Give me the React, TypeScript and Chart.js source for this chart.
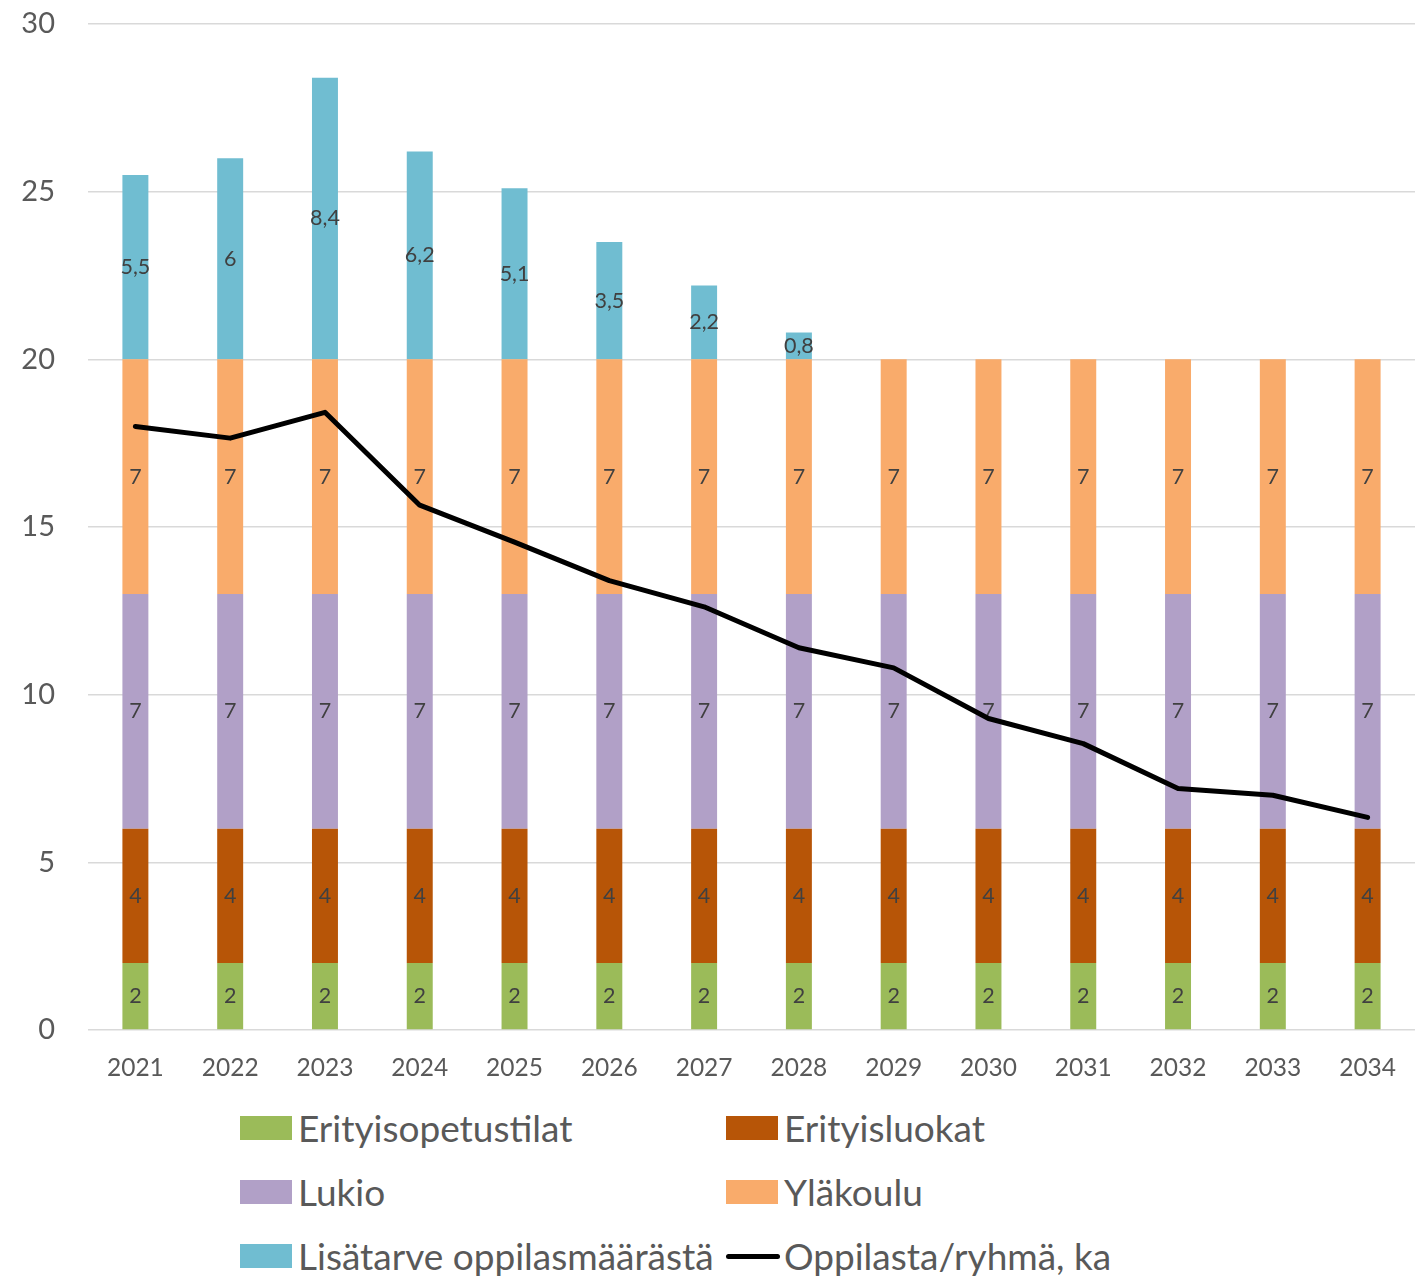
import React, { useEffect, useRef } from "react";
import { Chart, registerables } from "chart.js";

Chart.register(...registerables);

const years = ["2021","2022","2023","2024","2025","2026","2027","2028","2029","2030","2031","2032","2033","2034"];
const erityisopetustilat = [2,2,2,2,2,2,2,2,2,2,2,2,2,2];
const erityisluokat = [4,4,4,4,4,4,4,4,4,4,4,4,4,4];
const lukio = [7,7,7,7,7,7,7,7,7,7,7,7,7,7];
const ylakoulu = [7,7,7,7,7,7,7,7,7,7,7,7,7,7];
const lisatarve = [5.5,6,8.4,6.2,5.1,3.5,2.2,0.8,0,0,0,0,0,0];
const oppilastaRyhma = [18,17.65,18.42,15.65,14.55,13.4,12.62,11.4,10.8,9.29,8.54,7.2,7.0,6.34];
const yTicks = [0,5,10,15,20,25,30];

const FONT = "Lato, 'Open Sans', sans-serif";

const colors = {
  green: "#9BBB59",
  brown: "#B75507",
  purple: "#B1A0C7",
  orange: "#F9AB6B",
  teal: "#70BDD1",
};

const legendItems = [
  { label: "Erityisopetustilat", color: colors.green, type: "box", col: 0, row: 0 },
  { label: "Erityisluokat", color: colors.brown, type: "box", col: 1, row: 0 },
  { label: "Lukio", color: colors.purple, type: "box", col: 0, row: 1 },
  { label: "Yläkoulu", color: colors.orange, type: "box", col: 1, row: 1 },
  { label: "Lisätarve oppilasmäärästä", color: colors.teal, type: "box", col: 0, row: 2 },
  { label: "Oppilasta/ryhmä, ka", color: "#000000", type: "line", col: 1, row: 2 },
];

const labelPlugin = {
  id: "segLabels",
  afterDatasetDraw(chart: any, args: any) {
    const meta = args.meta;
    if (meta.type !== "bar") return;
    const ds = chart.data.datasets[args.index];
    const ctx = chart.ctx;
    ctx.save();
    ctx.font = `21.5px ${FONT}`;
    ctx.fillStyle = "#404040";
    ctx.textAlign = "center";
    ctx.textBaseline = "middle";
    meta.data.forEach((el: any, i: number) => {
      const v = ds.data[i];
      if (!v) return;
      const y = (el.y + el.base) / 2;
      ctx.fillText(String(v).replace(".", ","), el.x, y);
    });
    ctx.restore();
  },
};

export default function App() {
  const ref = useRef<HTMLCanvasElement | null>(null);

  useEffect(() => {
    if (!ref.current) return;
    const barCommon = {
      type: "bar" as const,
      stack: "s",
      order: 1,
      barPercentage: 0.274,
      categoryPercentage: 1,
    };
    const chart = new Chart(ref.current, {
      type: "bar",
      data: {
        labels: years,
        datasets: [
          { ...barCommon, label: "Erityisopetustilat", data: erityisopetustilat, backgroundColor: colors.green },
          { ...barCommon, label: "Erityisluokat", data: erityisluokat, backgroundColor: colors.brown },
          { ...barCommon, label: "Lukio", data: lukio, backgroundColor: colors.purple },
          { ...barCommon, label: "Yläkoulu", data: ylakoulu, backgroundColor: colors.orange },
          { ...barCommon, label: "Lisätarve oppilasmäärästä", data: lisatarve, backgroundColor: colors.teal },
          {
            type: "line" as const,
            label: "Oppilasta/ryhmä, ka",
            data: oppilastaRyhma,
            borderColor: "#000000",
            borderWidth: 5,
            pointRadius: 0,
            tension: 0,
            stack: "line",
            order: 0,
            borderCapStyle: "round",
            borderJoinStyle: "round",
          } as any,
        ],
      },
      options: {
        animation: false,
        responsive: false,
        maintainAspectRatio: false,
        layout: { padding: { top: 0, right: 12, bottom: 0, left: 0 } },
        plugins: {
          legend: { display: false },
          tooltip: { enabled: false },
        },
        scales: {
          x: {
            stacked: true,
            grid: { display: false, drawTicks: false },
            border: { display: false },
            ticks: { font: { family: FONT, size: 24.5 }, color: "#595959", padding: 23 },
            afterFit: (s: any) => { s.height = 68; s.paddingLeft = 0; s.paddingRight = 0; },
          },
          y: {
            stacked: true,
            min: 0,
            max: 30,
            afterBuildTicks: (s: any) => { s.ticks = yTicks.map((v) => ({ value: v })); },
            grid: { color: "#d9d9d9", lineWidth: 1.5, drawTicks: false },
            border: { display: false },
            ticks: { font: { family: FONT, size: 29 }, color: "#595959", padding: 33 },
            afterFit: (s: any) => { s.width = 80; s.paddingTop = 16; s.paddingBottom = 0; },
          },
        },
      },
      plugins: [labelPlugin],
    });
    return () => chart.destroy();
  }, []);

  return (
    <div style={{ position: "relative", width: 1419, height: 1270, fontFamily: FONT }}>
      <canvas ref={ref} width={1419} height={1090} style={{ display: "block", width: 1419, height: 1090 }} />
      {legendItems.map((it) => {
        const left = it.col === 0 ? 232 : 718;
        const centerY = 1120 + it.row * 64;
        return (
          <div
            key={it.label}
            style={{
              position: "absolute",
              left,
              top: centerY - 22,
              height: 44,
              display: "flex",
              alignItems: "center",
              whiteSpace: "nowrap",
            }}
          >
            {it.type === "box" ? (
              <span style={{ display: "inline-block", width: 52, height: 24, background: it.color }} />
            ) : (
              <span style={{ display: "inline-block", width: 54, height: 5, background: it.color, borderRadius: 3 }} />
            )}
            <span style={{ marginLeft: it.type === "box" ? 6 : 4, fontSize: 37, color: "#595959", lineHeight: "44px" }}>
              {it.label}
            </span>
          </div>
        );
      })}
    </div>
  );
}
